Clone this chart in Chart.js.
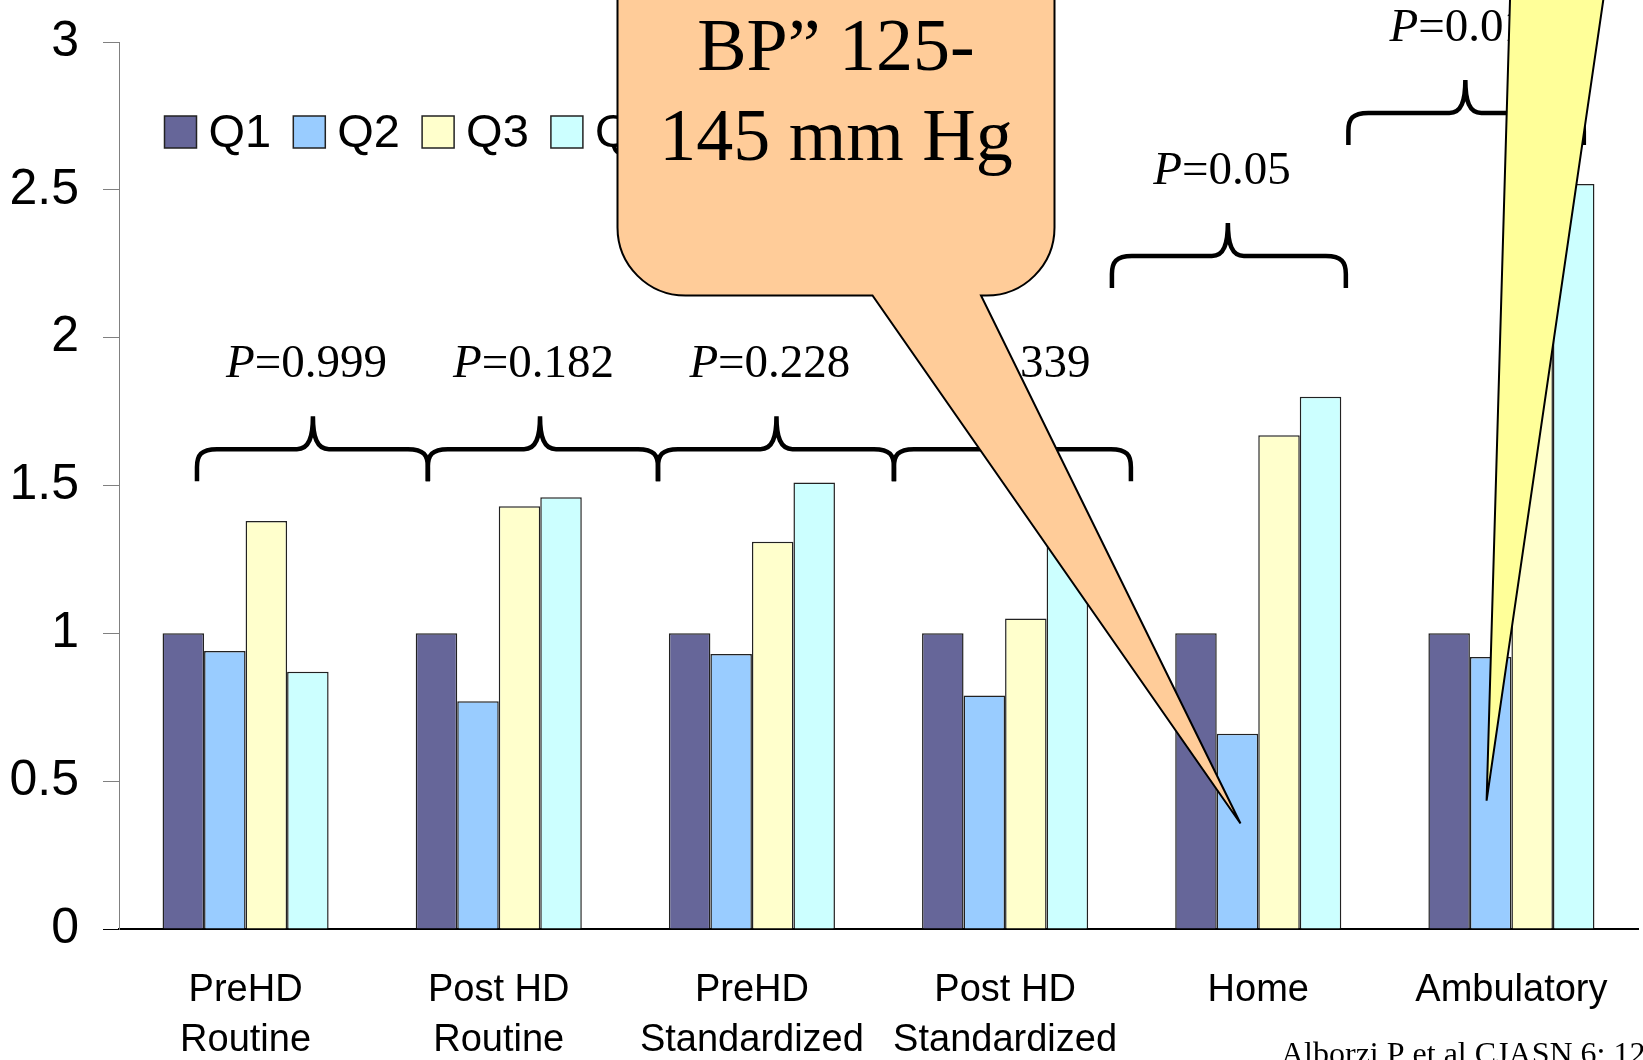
<!DOCTYPE html>
<html>
<head>
<meta charset="utf-8">
<title>BP quartiles by measurement</title>
<script src="https://cdn.jsdelivr.net/npm/chart.js@4.4.1/dist/chart.umd.min.js"></script>
<style>
    html, body { margin: 0; padding: 0; background: #fff; }
    #wrap { width: 1643px; height: 1060px; }
</style>
</head>
<body>
<div id="wrap"><canvas id="chart"></canvas></div>
<script>
const categories = [['PreHD', 'Routine'], ['Post HD', 'Routine'], ['PreHD', 'Standardized'], ['Post HD', 'Standardized'], 'Home', 'Ambulatory'];
const seriesNames = ['Q1', 'Q2', 'Q3', 'Q4'];
const q1 = [1, 1, 1, 1, 1, 1];
const q2 = [0.94, 0.77, 0.93, 0.79, 0.66, 0.92];
const q3 = [1.38, 1.43, 1.31, 1.05, 1.67, 2.2];
const q4 = [0.87, 1.46, 1.51, 1.33, 1.80, 2.52];
const yTicks = [0, 0.5, 1, 1.5, 2, 2.5, 3];
const pValues = ['0.999', '0.182', '0.228', '0.339', '0.05', '0.01'];

// brace annotations, in category index / value units
const braceFrom = [-0.192, 0.720, 1.629, 2.561, 3.422, 4.356];
const braceTo = [0.720, 1.629, 2.561, 3.497, 4.346, 5.286];
const braceMid = [0.266, 1.163, 2.097, 3.027, 3.880, 4.818];
const braceLevel = [1.623, 1.623, 1.623, 1.623, 2.276, 2.760];
const pLabelMid = [0.2405, 1.137, 2.071, 3.019, 3.857, 4.790];

const seriesColors = ['#666699', '#99CCFF', '#FFFFCC', '#CCFFFF'];
const sans = '"Liberation Sans", Arial, sans-serif';
const serif = '"Liberation Serif", "Times New Roman", serif';


function drawLegend(ctx, chart) {
    let x = 164.5;
    ctx.save();
    ctx.font = '47px ' + sans;
    ctx.textBaseline = 'alphabetic';
    ctx.textAlign = 'left';
    chart.data.datasets.forEach(ds => {
        ctx.fillStyle = ds.backgroundColor;
        ctx.fillRect(x, 116, 32, 32);
        ctx.lineWidth = 1.5;
        ctx.strokeStyle = '#222';
        ctx.strokeRect(x, 116, 32, 32);
        ctx.fillStyle = '#000';
        ctx.fillText(ds.label, x + 44, 147);
        x += 128.8;
    });
    ctx.restore();
}


function drawBrace(ctx, xl, xr, xc, yf) {
    ctx.beginPath();
    ctx.moveTo(xl, yf + 32);
    ctx.lineTo(xl, yf + 18);
    ctx.bezierCurveTo(xl, yf + 6, xl + 4, yf, xl + 20, yf);
    ctx.lineTo(xc - 16, yf);
    ctx.bezierCurveTo(xc - 4, yf, xc, yf - 12, xc, yf - 33);
    ctx.bezierCurveTo(xc, yf - 12, xc + 4, yf, xc + 16, yf);
    ctx.lineTo(xr - 20, yf);
    ctx.bezierCurveTo(xr - 4, yf, xr, yf + 6, xr, yf + 18);
    ctx.lineTo(xr, yf + 32);
    ctx.stroke();
}


function drawPLabel(ctx, cx, baseline, value) {
    ctx.font = 'italic 47px ' + serif;
    const w1 = ctx.measureText('P').width;
    ctx.font = '47px ' + serif;
    const w2 = ctx.measureText('=' + value).width;
    const x0 = cx - (w1 + w2) / 2;
    ctx.textAlign = 'left';
    ctx.textBaseline = 'alphabetic';
    ctx.fillStyle = '#000';
    ctx.font = 'italic 47px ' + serif;
    ctx.fillText('P', x0, baseline);
    ctx.font = '47px ' + serif;
    ctx.fillText('=' + value, x0 + w1, baseline);
}


function drawBraces(ctx, xs, ys) {
    ctx.save();
    ctx.strokeStyle = '#000';
    ctx.lineWidth = 4.5;
    ctx.lineCap = 'butt';
    ctx.lineJoin = 'miter';
    for (let i = 0; i < braceMid.length; i++) {
        const yf = ys.getPixelForValue(braceLevel[i]);
        const xc = xs.getPixelForValue(braceMid[i]);
        drawBrace(ctx, xs.getPixelForValue(braceFrom[i]), xs.getPixelForValue(braceTo[i]), xc, yf);
        drawPLabel(ctx, xs.getPixelForValue(pLabelMid[i]), yf - 72, pValues[i]);
    }
    ctx.restore();
}


function drawOrangeCallout(ctx) {
    const L = 617.5, R = 1054.5, B = 295.5, T = -150, r = 68;
    ctx.save();
    ctx.beginPath();
    ctx.moveTo(L, T);
    ctx.lineTo(L, B - r);
    ctx.arcTo(L, B, L + r, B, r);
    ctx.lineTo(872.5, B);
    ctx.lineTo(1240.5, 823.5);
    ctx.lineTo(981, B);
    ctx.arcTo(R, B, R, B - r, r);
    ctx.lineTo(R, T);
    ctx.closePath();
    ctx.fillStyle = '#FFCC99';
    ctx.fill();
    ctx.lineWidth = 2;
    ctx.strokeStyle = '#000';
    ctx.stroke();

    ctx.fillStyle = '#000';
    ctx.font = '74px ' + serif;
    ctx.textAlign = 'center';
    ctx.textBaseline = 'alphabetic';
    ctx.fillText('BP\u201D 125-', 836, 70);
    ctx.fillText('145 mm Hg', 836, 160);
    ctx.restore();
}


function drawYellowCallout(ctx) {
    ctx.save();
    ctx.beginPath();
    ctx.moveTo(1510.6, -20);
    ctx.lineTo(1486.6, 800.7);
    ctx.lineTo(1606.2, -20);
    ctx.closePath();
    ctx.fillStyle = '#FFFF99';
    ctx.fill();
    ctx.lineWidth = 2;
    ctx.strokeStyle = '#000';
    ctx.stroke();
    ctx.restore();
}


function drawCitation(ctx) {
    ctx.save();
    ctx.fillStyle = '#000';
    ctx.font = '32px ' + serif;
    ctx.textAlign = 'left';
    ctx.textBaseline = 'alphabetic';
    ctx.fillText('Alborzi P et al CJASN 6: 1226-1234, 2011', 1281, 1064);
    ctx.restore();
}


const overlay = {
    id: 'overlay',
    afterDraw(chart) {
        const ctx = chart.ctx;
        drawLegend(ctx, chart);
        drawBraces(ctx, chart.scales.x, chart.scales.y);
        drawOrangeCallout(ctx);
        drawYellowCallout(ctx);
        drawCitation(ctx);
    }
};


function makeDataset(i, values) {
    return {
        label: seriesNames[i],
        data: values,
        backgroundColor: seriesColors[i],
        borderColor: '#222',
        borderWidth: 1.5,
        borderSkipped: 'bottom',
        categoryPercentage: 0.656,
        barPercentage: 1.0
    };
}


function init() {
    const ctx = document.getElementById('chart').getContext('2d');
    new Chart(ctx, {
        type: 'bar',
        data: {
            labels: categories,
            datasets: [q1, q2, q3, q4].map((v, i) => makeDataset(i, v))
        },
        options: {
            responsive: true,
            maintainAspectRatio: false,
            animation: false,
            events: [],
            layout: { padding: { top: 42, right: 5, left: 0, bottom: 0 } },
            plugins: {
                legend: { display: false },
                tooltip: { enabled: false }
            },
            scales: {
                x: {
                    grid: { display: false, drawTicks: false },
                    border: { display: true, color: '#000', width: 2 },
                    ticks: {
                        color: '#000',
                        padding: 37,
                        maxRotation: 0,
                        autoSkip: false,
                        font: { family: sans, size: 38, lineHeight: 1.3 }
                    },
                    afterFit: scale => {
                        scale.height = 131;
                        scale.paddingLeft = 0;
                        scale.paddingRight = 0;
                    }
                },
                y: {
                    min: 0,
                    max: 3,
                    afterBuildTicks: scale => { scale.ticks = yTicks.map(v => ({ value: v })); },
                    grid: {
                        drawOnChartArea: false,
                        tickLength: 16,
                        tickWidth: 1,
                        tickColor: c => (c.tick && c.tick.value === 0 ? '#000' : '#808080')
                    },
                    border: { display: true, color: '#808080', width: 1 },
                    ticks: {
                        color: '#000',
                        padding: 24,
                        font: { family: sans, size: 50 },
                        callback: value => String(value)
                    },
                    afterFit: scale => {
                        scale.width = 119;
                        scale.paddingTop = 0;
                        scale.paddingBottom = 0;
                    }
                }
            }
        },
        plugins: [overlay]
    });
}

init();
</script>
</body>
</html>
